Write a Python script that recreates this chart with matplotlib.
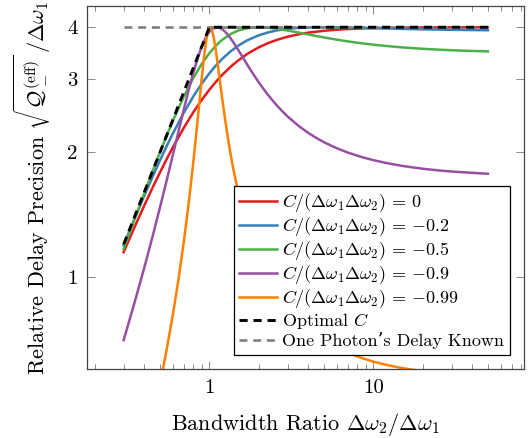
import matplotlib

matplotlib.use("Agg")
import matplotlib.pyplot as plt
from matplotlib.ticker import FixedLocator, LogLocator, NullFormatter, NullLocator

plt.rcParams["font.family"] = ["cmr10", "DejaVu Serif"]
plt.rcParams["mathtext.fontset"] = "cm"
plt.rcParams["axes.formatter.use_mathtext"] = True

# bandwidth ratio samples and precision values
r_smooth = [0.3, 0.35, 0.4, 0.45, 0.5, 0.55, 0.6, 0.7, 0.8, 0.9, 1.0, 1.1, 1.2,
            1.35, 1.5, 1.7, 2, 2.3, 2.6, 3, 3.5, 4, 5, 6, 7, 8.5, 10, 12, 15,
            20, 25, 30, 40, 50]
y_c0 = [1.149, 1.321, 1.486, 1.642, 1.789, 1.928, 2.058, 2.294, 2.499, 2.676,
        2.828, 2.960, 3.073, 3.214, 3.328, 3.448, 3.578, 3.668, 3.733, 3.795,
        3.846, 3.881, 3.922, 3.946, 3.960, 3.973, 3.980, 3.986, 3.991, 3.995,
        3.997, 3.998, 3.999, 3.999]
y_c02 = [1.194, 1.384, 1.568, 1.744, 1.912, 2.072, 2.222, 2.494, 2.729, 2.929,
         3.098, 3.240, 3.359, 3.502, 3.611, 3.719, 3.825, 3.890, 3.931, 3.964,
         3.985, 3.995, 4.000, 3.998, 3.993, 3.986, 3.979, 3.972, 3.963, 3.954,
         3.948, 3.943, 3.938, 3.934]
y_c05 = [1.169, 1.380, 1.590, 1.797, 2.000, 2.196, 2.384, 2.728, 3.024, 3.268,
         3.464, 3.617, 3.733, 3.854, 3.928, 3.979, 4.000, 3.989, 3.965, 3.928,
         3.883, 3.843, 3.780, 3.733, 3.698, 3.659, 3.631, 3.605, 3.577, 3.549,
         3.533, 3.521, 3.507, 3.499]

r_c09 = [0.3, 0.35, 0.4, 0.45, 0.5, 0.55, 0.6, 0.65, 0.7, 0.75, 0.8, 0.85, 0.9,
         0.95, 1.0, 1.05, 1.11, 1.15, 1.2, 1.25, 1.3, 1.35, 1.4, 1.5, 1.6, 1.7,
         1.8, 2, 2.25, 2.5, 2.75, 3, 3.5, 4, 4.5, 5, 6, 7, 8.5, 10, 12, 15, 20,
         25, 30, 40, 50]
y_c09 = [0.705, 0.870, 1.051, 1.252, 1.474, 1.715, 1.977, 2.255, 2.545, 2.837,
         3.119, 3.378, 3.600, 3.775, 3.899, 3.971, 4.000, 3.990, 3.954, 3.899,
         3.831, 3.757, 3.680, 3.527, 3.383, 3.254, 3.138, 2.947, 2.765, 2.629,
         2.523, 2.439, 2.315, 2.228, 2.164, 2.114, 2.044, 1.996, 1.947, 1.914,
         1.884, 1.854, 1.825, 1.808, 1.797, 1.784, 1.775]

r_c099 = [0.45, 0.5, 0.55, 0.6, 0.65, 0.7, 0.75, 0.8, 0.85, 0.9, 0.93, 0.96,
          0.98, 0.99, 1.0, 1.01, 1.02, 1.04, 1.05, 1.07, 1.1, 1.15, 1.2, 1.25,
          1.3, 1.35, 1.4, 1.5, 1.6, 1.7, 1.85, 2, 2.25, 2.5, 3, 3.5, 4, 5, 6,
          7, 8.5, 10, 12, 15, 20, 30, 50]
y_c099 = [0.455, 0.553, 0.672, 0.816, 0.996, 1.225, 1.520, 1.908, 2.413, 3.035,
          3.423, 3.756, 3.910, 3.960, 3.990, 4.000, 3.991, 3.921, 3.865, 3.723,
          3.470, 3.042, 2.677, 2.385, 2.154, 1.970, 1.822, 1.600, 1.442, 1.325,
          1.198, 1.107, 1.001, 0.930, 0.840, 0.786, 0.749, 0.703, 0.676, 0.657,
          0.639, 0.626, 0.615, 0.604, 0.594, 0.584, 0.576]

r_opt = [0.3, 1, 50]
y_opt = [1.2, 4, 4]
r_known = [0.3, 50]
y_known = [4, 4]

labels = [r"$C/(\Delta\omega_1\Delta\omega_2)\,=\,0$",
          r"$C/(\Delta\omega_1\Delta\omega_2)\,=\,{-}0.2$",
          r"$C/(\Delta\omega_1\Delta\omega_2)\,=\,{-}0.5$",
          r"$C/(\Delta\omega_1\Delta\omega_2)\,=\,{-}0.9$",
          r"$C/(\Delta\omega_1\Delta\omega_2)\,=\,{-}0.99$"]
colors = ["#e41a1c", "#377eb8", "#4daf4a", "#984ea3", "#ff7f00"]


def main() -> None:
    fig = plt.figure(figsize=(5.28, 4.38), dpi=100)
    ax = fig.add_axes([0.1653, 0.1568, 0.8277, 0.8295])

    series = [(r_smooth, y_c0), (r_smooth, y_c02), (r_smooth, y_c05),
              (r_c09, y_c09), (r_c099, y_c099)]
    for (xs, ys), lab, col in zip(series, labels, colors):
        ax.plot(xs, ys, color=col, lw=1.8, label=lab, zorder=2)
    ax.plot(r_known, y_known, color="#808080", lw=1.9, ls=(0, (3, 2.2)),
            label="One Photon\u2019s Delay Known", zorder=3)
    ax.plot(r_opt, y_opt, color="black", lw=2.1, ls=(0, (2.8, 2.0)),
            label=r"Optimal $C$", zorder=4)

    ax.set_xscale("log")
    ax.set_yscale("log")
    ax.set_xlim(0.18, 83.4)
    ax.set_ylim(0.6, 4.5)

    ax.xaxis.set_major_locator(FixedLocator([1, 10]))
    ax.xaxis.set_major_formatter(plt.FixedFormatter(["1", "10"]))
    ax.xaxis.set_minor_locator(LogLocator(base=10, subs=range(2, 10)))
    ax.xaxis.set_minor_formatter(NullFormatter())
    ax.yaxis.set_major_locator(FixedLocator([1, 2, 3, 4]))
    ax.yaxis.set_major_formatter(plt.FixedFormatter(["1", "2", "3", "4"]))
    ax.yaxis.set_minor_locator(NullLocator())

    ax.tick_params(which="both", direction="in", top=True, right=True,
                   color="#888888", width=0.7, labelsize=15, pad=7)
    ax.tick_params(which="major", length=6)
    ax.tick_params(which="minor", length=3.5)
    for sp in ax.spines.values():
        sp.set_color("#444444")
        sp.set_linewidth(0.9)

    ax.set_xlabel(r"Bandwidth Ratio $\Delta\omega_2/\Delta\omega_1$",
                  fontsize=16, labelpad=10)
    ax.set_ylabel(r"Relative Delay Precision "
                  r"$\sqrt{\mathcal{Q}_-^{(\mathrm{eff})}}\,/\Delta\omega_1$",
                  fontsize=16, labelpad=10)

    handles, labs = ax.get_legend_handles_labels()
    order = [0, 1, 2, 3, 4, 6, 5]
    leg = ax.legend([handles[i] for i in order], [labs[i] for i in order],
                    loc="lower right", fontsize=13, frameon=True, fancybox=False,
                    edgecolor="black", framealpha=1, handlelength=2.1,
                    handletextpad=0.3, labelspacing=0.06, borderpad=0.3,
                    borderaxespad=0.8)
    leg.get_frame().set_linewidth(0.9)

    fig.savefig("out.png", dpi=100)


if __name__ == "__main__":
    main()
